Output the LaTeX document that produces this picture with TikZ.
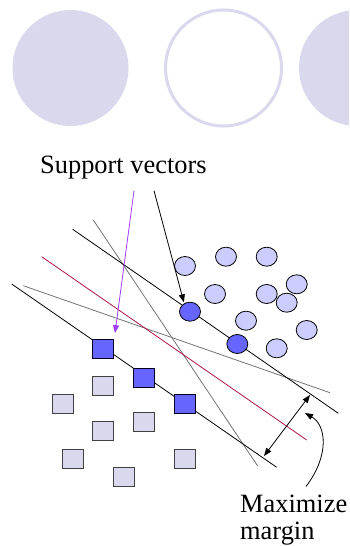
\documentclass[tikz,border=0pt]{standalone}
\usepackage{fontspec}
\setmainfont{Liberation Serif}
\usetikzlibrary{arrows.meta,shapes.geometric}
\definecolor{lav}{RGB}{218, 216, 236}
\definecolor{pale}{RGB}{204, 204, 255}
\definecolor{sv}{RGB}{102, 102, 255}
\definecolor{hyp}{RGB}{170, 20, 70}
\definecolor{vio}{RGB}{160, 60, 255}

\begin{document}
\begin{tikzpicture}[every node/.style={inner sep=0pt},
  >={Triangle[length=8pt, width=6pt]},
  blob/.style={ellipse, minimum width=21pt, minimum height=19pt, fill=pale, line width=0.8pt, draw=black},
  svblob/.style={blob, fill=sv},
  box/.style={rectangle, minimum width=21pt, minimum height=19pt, fill=lav, line width=0.8pt, draw=black!75},
  svbox/.style={box, fill=sv, draw=black!85!blue},
  word/.style={font=\fontsize{26.4pt}{30pt}\selectfont, anchor=base west}]
\useasboundingbox (0pt, 0pt) rectangle (349pt, -546pt);
\clip (0pt, 0pt) rectangle (349pt, -546pt);

% discs along the top
\fill [lav] (70.5pt, -68.0pt) circle (58pt);
\draw [lav, line width=3pt] (223.5pt, -68.0pt) circle (58pt);
\fill [lav] (357.0pt, -68.0pt) circle (58pt);

% end points of the separating lines
\coordinate (u1) at (72.7pt, -229.3pt);
\coordinate (u2) at (338.3pt, -413.3pt);
\coordinate (l1) at (11.7pt, -284.0pt);
\coordinate (l2) at (276.7pt, -467.3pt);
\coordinate (h1) at (41.7pt, -256.7pt);
\coordinate (h2) at (306.7pt, -440.0pt);
\coordinate (g1) at (93.3pt, -220.0pt);
\coordinate (g2) at (257.7pt, -466.0pt);
\coordinate (g3) at (23.3pt, -285.7pt);
\coordinate (g4) at (330.0pt, -392.7pt);

\draw [line width=0.8pt, color=black!55] (g1) to (g2);
\draw [line width=0.8pt, color=black!55] (g3) to (g4);
\draw [line width=0.8pt, color=hyp] (h1) to (h2);
\draw [line width=0.8pt, color=black] (u1) to (u2);
\draw [line width=0.8pt, color=black] (l1) to (l2);

% circles
\node (c1) [blob] at (185.0pt, -266.0pt) {};
\node (c2) [blob] at (226.0pt, -256.7pt) {};
\node (c3) [blob] at (266.7pt, -256.7pt) {};
\node (c4) [blob] at (215.0pt, -294.0pt) {};
\node (c5) [blob] at (266.7pt, -294.0pt) {};
\node (c6) [blob] at (296.7pt, -284.3pt) {};
\node (c7) [blob] at (286.7pt, -302.7pt) {};
\node (c8) [blob] at (246.0pt, -320.7pt) {};
\node (c9) [blob] at (306.7pt, -330.0pt) {};
\node (c10) [blob] at (276.7pt, -348.3pt) {};
\node (c11) [svblob] at (190.0pt, -311.7pt) {};
\node (c12) [svblob] at (237.3pt, -344.0pt) {};

% squares
\node (s1) [svbox] at (103.3pt, -349.0pt) {};
\node (s2) [svbox] at (144.0pt, -377.7pt) {};
\node (s3) [svbox] at (185.0pt, -404.0pt) {};
\node (s4) [box] at (103.3pt, -385.7pt) {};
\node (s5) [box] at (62.7pt, -404.0pt) {};
\node (s6) [box] at (144.0pt, -422.0pt) {};
\node (s7) [box] at (103.3pt, -431.3pt) {};
\node (s8) [box] at (72.7pt, -459.0pt) {};
\node (s9) [box] at (185.0pt, -459.0pt) {};
\node (s10) [box] at (123.7pt, -477.3pt) {};

% labels
\node (sv) [word] at (40.0pt, -173.0pt) {Support vectors};
\node (mx1) [word] at (240.0pt, -512.0pt) {Maximize};
\node (mx2) [word] at (240.0pt, -539.0pt) {margin};

\coordinate (p1) at (134.0pt, -190.7pt);
\coordinate (p2) at (154.0pt, -190.7pt);
\draw [line width=0.8pt, color=vio, ->, shorten >=6pt] (p1) to (s1.north east);
\draw [line width=0.8pt, color=black, ->, shorten >=1pt] (p2) to (c11.125);

% margin width
\coordinate (m1) at (310.0pt, -395.0pt);
\coordinate (m2) at (264.0pt, -456.0pt);
\coordinate (t0) at (306.0pt, -486.5pt);
\coordinate (t1) at (305.0pt, -413.0pt);
\draw [line width=0.8pt, <->] (m1) to (m2);
\draw [line width=0.8pt, ->] (t0) .. controls (330pt, -455pt) and (326pt, -425pt) .. (t1);
\end{tikzpicture}
\end{document}
